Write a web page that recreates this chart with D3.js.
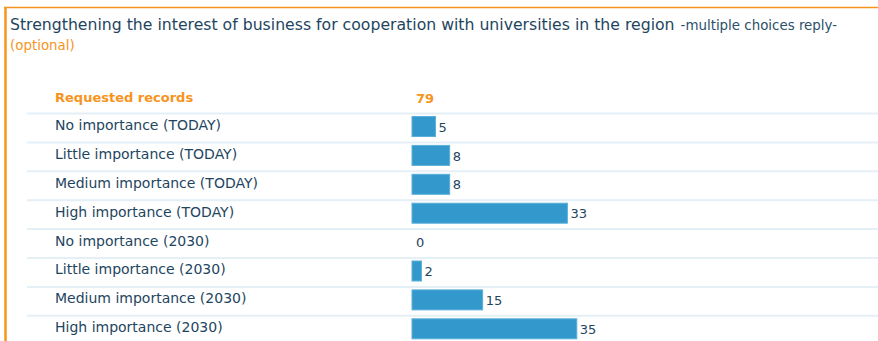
<!DOCTYPE html>
<html><head><meta charset="utf-8">
<script src="https://cdn.jsdelivr.net/npm/d3@7"></script>
<style>
html,body{margin:0;padding:0;background:#fff;}
svg{display:block;font-family:"DejaVu Sans",sans-serif;}
</style></head>
<body><svg id="c" width="878" height="341"></svg>
<script>
const titleText = "Strengthening the interest of business for cooperation with universities in the region";
const subtitleText = "-multiple choices reply-";
const optionalText = "(optional)";
const headerLabel = "Requested records";
const totalRecords = 79;
const categories = [
  "No importance (TODAY)",
  "Little importance (TODAY)",
  "Medium importance (TODAY)",
  "High importance (TODAY)",
  "No importance (2030)",
  "Little importance (2030)",
  "Medium importance (2030)",
  "High importance (2030)"
];
const values = [5, 8, 8, 33, 0, 2, 15, 35];

const svg = d3.select("#c");
const W = 878, H = 341;
const orange = "#f7941d", dark = "#1e4560", barColor = "#3399cc", lineColor = "#e4eff6";

// frame
svg.append("line").attr("x1",4).attr("x2",W).attr("y1",7.5).attr("y2",7.5).attr("stroke",orange).attr("stroke-width",1.5);
svg.append("line").attr("x1",5.5).attr("x2",5.5).attr("y1",7).attr("y2",H).attr("stroke",orange).attr("stroke-width",2.5);

// title
const t = svg.append("text").attr("x",10).attr("y",29.5).attr("fill",dark).style("font-size","15.7px");
t.append("tspan").text(titleText);
t.append("tspan").attr("dx",6).style("font-size","13.4px").attr("fill","#2a5068").text(subtitleText);
svg.append("text").attr("x",10).attr("y",50).attr("fill",orange).style("font-size","13.4px").text(optionalText);

// rows
const rowsY = d3.scaleBand().domain(d3.range(categories.length + 1)).range([84.6, 84.6 + 28.9*9]).paddingInner(0).paddingOuter(0);
const x = d3.scaleLinear().domain([0, totalRecords]).range([412, 412 + 372]);
const mid = i => rowsY(i) + rowsY.bandwidth()/2;

// separator lines
svg.selectAll("line.sep").data(d3.range(1, categories.length + 1)).join("line")
  .attr("class","sep")
  .attr("x1",27).attr("x2",W)
  .attr("y1",d => rowsY(d)).attr("y2",d => rowsY(d))
  .attr("stroke",lineColor).attr("stroke-width",2);

// header row
svg.append("text").attr("x",55).attr("y",mid(0)+2.6)
  .attr("fill",orange).style("font-size","13px").style("font-weight","bold").text(headerLabel);
svg.append("text").attr("x",416).attr("y",mid(0)+4.2)
  .attr("fill",orange).style("font-size","13px").style("font-weight","bold").text(totalRecords);

const rows = svg.selectAll("g.row").data(categories.map((c,i)=>({c, v: values[i], i: i+1}))).join("g").attr("class","row");
rows.append("text").attr("x",55).attr("y",d => mid(d.i)+2)
  .attr("fill",dark).style("font-size","14px").text(d => d.c);
rows.filter(d => d.v > 0).append("rect")
  .attr("x", x(0)).attr("y", d => rowsY(d.i)+3)
  .attr("width", d => x(d.v) - x(0)).attr("height", 20)
  .attr("fill", barColor).attr("stroke","#5ab0da").attr("stroke-width",1);
rows.append("text")
  .attr("x", d => d.v > 0 ? x(d.v) + 3 : 416)
  .attr("y", d => mid(d.i)+3.7)
  .attr("fill",dark).style("font-size","13px").text(d => d.v);
</script></body></html>
